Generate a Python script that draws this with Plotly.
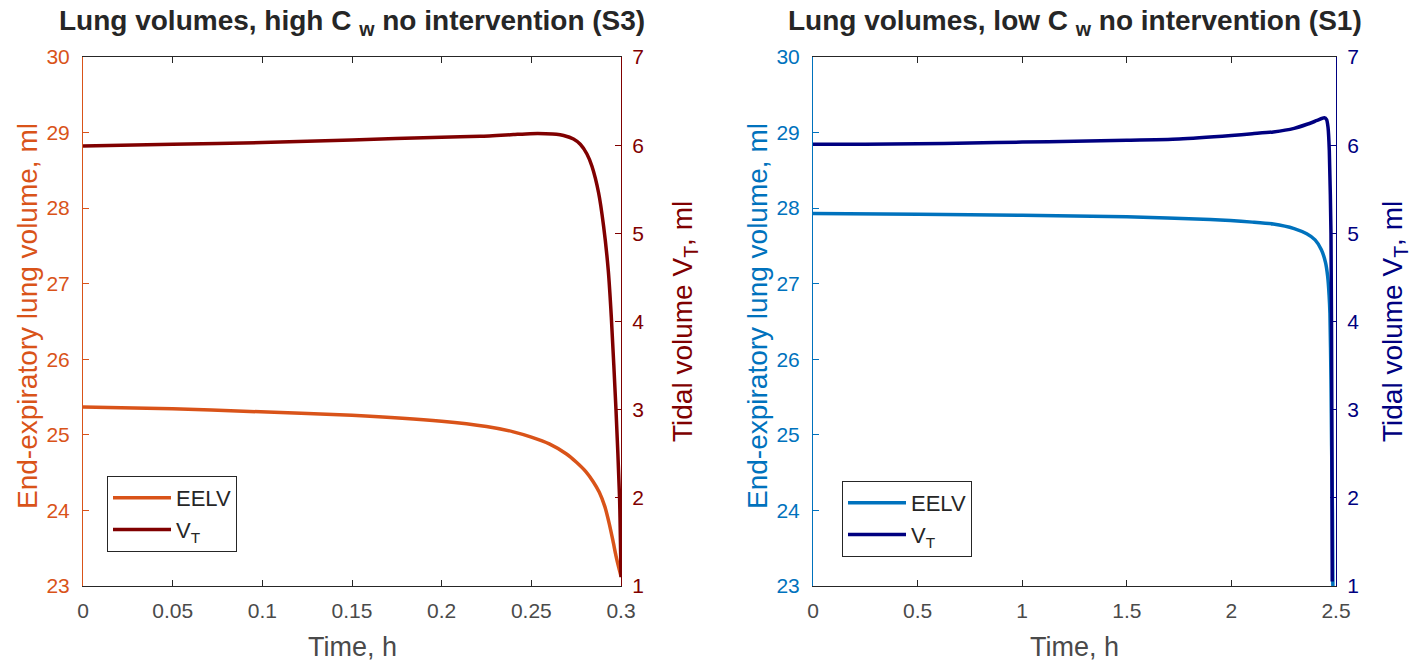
import plotly.graph_objects as go

# ---- data: left panel (high Cw, S3) ----
t_s3_eelv = [0, 0.05, 0.093, 0.15, 0.2, 0.225, 0.24, 0.25, 0.26, 0.2694, 0.275, 0.2805,
             0.2845, 0.2879, 0.291, 0.2935, 0.2955, 0.2972, 0.2988, 0.3]
eelv_s3 = [25.37, 25.345, 25.31, 25.26, 25.18, 25.11, 25.04, 24.97, 24.88, 24.75, 24.64, 24.51,
           24.38, 24.24, 24.05, 23.82, 23.60, 23.40, 23.24, 23.13]
t_s3_vt = [0, 0.05, 0.1, 0.15, 0.2, 0.2216, 0.24, 0.2494, 0.258, 0.264, 0.268, 0.2735, 0.2773,
           0.281, 0.2838, 0.2875, 0.2903, 0.2929, 0.2946, 0.2972, 0.2992, 0.3]
vt_s3 = [5.99, 6.01, 6.03, 6.06, 6.09, 6.10, 6.12, 6.13, 6.13, 6.125, 6.11, 6.07, 6.01,
         5.90, 5.76, 5.46, 5.08, 4.58, 4.05, 3.00, 2.00, 1.10]

# ---- data: right panel (low Cw, S1) ----
t_s1_eelv = [0, 0.5, 1.0, 1.5, 1.9, 2.1, 2.2, 2.3, 2.36, 2.4, 2.43, 2.45, 2.46, 2.467,
             2.471, 2.476, 2.479, 2.483, 2.485]
eelv_s1 = [27.93, 27.92, 27.905, 27.885, 27.85, 27.815, 27.79, 27.73, 27.66, 27.58, 27.45,
           27.28, 27.10, 26.85, 26.61, 25.73, 24.85, 23.97, 23.00]
t_s1_vt = [0, 0.25, 0.5, 0.75, 1.0, 1.25, 1.5, 1.75, 2.0, 2.1, 2.2, 2.3, 2.365, 2.41,
           2.444, 2.455, 2.462, 2.468, 2.476, 2.48, 2.482]
vt_s1 = [6.01, 6.01, 6.015, 6.025, 6.035, 6.045, 6.055, 6.07, 6.11, 6.13, 6.15, 6.19,
         6.24, 6.28, 6.31, 6.29, 6.20, 5.94, 5.00, 3.00, 1.05]

# ---- tick labels ----
x_ticks_s3 = [0, 0.05, 0.1, 0.15, 0.2, 0.25, 0.3]
x_ticks_s1 = [0, 0.5, 1, 1.5, 2, 2.5]
y_left_ticks = [23, 24, 25, 26, 27, 28, 29, 30]
y_right_ticks = [1, 2, 3, 4, 5, 6, 7]

ORANGE = "#D95319"
MAROON = "#800000"
BLUE = "#0072BD"
NAVY = "#000080"
AXC = "#262626"
TXT = "#4a4a4a"
FONT = "Liberation Sans, Arial, Helvetica, sans-serif"

W, H = 1419, 666
def px_x(p): return p / W
def px_y(p): return 1 - p / H

dom1 = [px_x(83), px_x(621)]
dom2 = [px_x(813), px_x(1336)]
ydom = [px_y(586), px_y(57)]

def ln(color):
    return dict(color=color, width=3.5, shape="spline", smoothing=0.6)

fig = go.Figure()
fig.add_trace(go.Scatter(x=t_s3_eelv, y=eelv_s3, name="EELV", mode="lines",
                         line=ln(ORANGE), xaxis="x", yaxis="y", legend="legend"))
fig.add_trace(go.Scatter(x=t_s3_vt, y=vt_s3, name="V<sub>T</sub>", mode="lines",
                         line=ln(MAROON), xaxis="x", yaxis="y2", legend="legend"))
fig.add_trace(go.Scatter(x=t_s1_eelv, y=eelv_s1, name="EELV", mode="lines",
                         line=ln(BLUE), xaxis="x2", yaxis="y3", legend="legend2"))
fig.add_trace(go.Scatter(x=t_s1_vt, y=vt_s1, name="V<sub>T</sub>", mode="lines",
                         line=ln(NAVY), xaxis="x2", yaxis="y4", legend="legend2"))

TICK = 21

def xax(domain, rng, tv, anchor):
    return dict(domain=domain, range=rng, tickvals=tv, ticks="inside", ticklen=6,
                tickcolor=AXC, showline=True, linecolor=AXC, linewidth=1, mirror="ticks",
                showgrid=False, zeroline=False, anchor=anchor, automargin=False,
                ticklabelstandoff=6,
                tickfont=dict(family=FONT, size=TICK, color=TXT))

def yax(rng, tv, color, side, anchor, standoff, overlaying=None):
    d = dict(domain=ydom, range=rng, tickvals=tv, ticks="inside", ticklen=6,
             tickcolor=color, showline=True, linecolor=color, linewidth=1,
             showgrid=False, zeroline=False, side=side, anchor=anchor, automargin=False,
             ticklabelstandoff=standoff,
             tickfont=dict(family=FONT, size=TICK, color=color))
    if overlaying:
        d["overlaying"] = overlaying
    return d

legend_common = dict(bgcolor="white", bordercolor="#262626", borderwidth=1,
                     font=dict(family=FONT, size=22, color=AXC),
                     xanchor="left", yanchor="top", itemwidth=58, tracegroupgap=0)

fig.update_layout(
    width=W, height=H,
    margin=dict(l=0, r=0, t=0, b=0, autoexpand=False),
    paper_bgcolor="white", plot_bgcolor="white",
    xaxis=xax(dom1, [0, 0.3], x_ticks_s3, "y"),
    xaxis2=xax(dom2, [0, 2.5], x_ticks_s1, "y3"),
    yaxis=yax([23, 30], y_left_ticks, ORANGE, "left", "x", 8),
    yaxis2=yax([1, 7], y_right_ticks, MAROON, "right", "x", 6, overlaying="y"),
    yaxis3=yax([23, 30], y_left_ticks, BLUE, "left", "x2", 8),
    yaxis4=yax([1, 7], y_right_ticks, NAVY, "right", "x2", 6, overlaying="y3"),
    legend=dict(x=px_x(107), y=px_y(476), **legend_common),
    legend2=dict(x=px_x(842), y=px_y(481), **legend_common),
    showlegend=True,
)

ann = []
LAB = 28
def a(text, x, y, size, color, angle=0):
    return dict(text=text, x=x, y=y, xref="paper", yref="paper", xanchor="center",
                yanchor="middle", showarrow=False, textangle=angle,
                font=dict(family=FONT, size=size, color=color))

# titles
ann.append(a("<b>Lung volumes, high C <sub>w</sub> no intervention (S3)</b>",
             (dom1[0] + dom1[1]) / 2, px_y(22), 28, AXC))
ann.append(a("<b>Lung volumes, low C <sub>w</sub> no intervention (S1)</b>",
             (dom2[0] + dom2[1]) / 2, px_y(22), 28, AXC))
# x titles
for d in (dom1, dom2):
    ann.append(a("Time, h", (d[0] + d[1]) / 2, px_y(647), 27, TXT))
# y titles
ycen = px_y(316)
ann.append(a("End-expiratory lung volume, ml", px_x(27), ycen, LAB, ORANGE, -90))
ann.append(a("Tidal volume V<sub>T</sub>, ml", px_x(684), px_y(322), LAB, MAROON, -90))
ann.append(a("End-expiratory lung volume, ml", px_x(757), ycen, LAB, BLUE, -90))
ann.append(a("Tidal volume V<sub>T</sub>, ml", px_x(1394), px_y(322), LAB, NAVY, -90))
fig.update_layout(annotations=ann)

fig.write_html("out.html", config={"displayModeBar": False},
               post_script="document.body.style.margin='0';document.body.style.overflow='hidden';")
